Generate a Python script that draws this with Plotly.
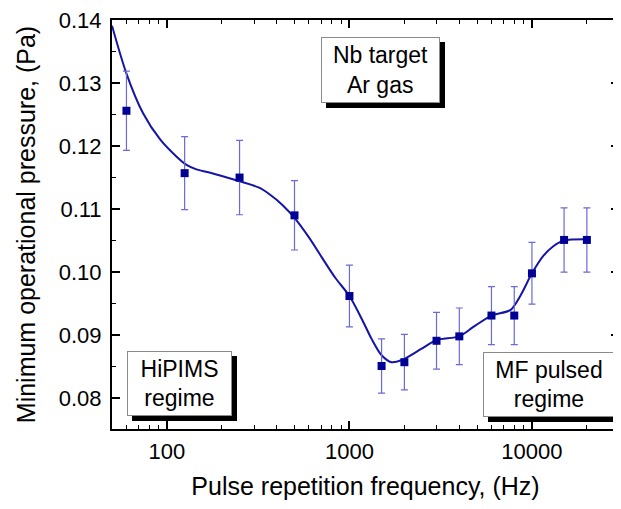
import plotly.graph_objects as go

# measured points
freq = [60, 125, 250, 500, 1000, 1500, 2000, 3000, 4000, 6000, 8000, 10000, 15000, 20000]
pressure = [0.1256, 0.1157, 0.1150, 0.1090, 0.0962, 0.0851, 0.0857, 0.0891, 0.0898, 0.0931, 0.0931, 0.0998, 0.1051, 0.1051]
err = [0.0063, 0.0058, 0.0059, 0.0055, 0.0049, 0.0043, 0.0044, 0.0045, 0.0045, 0.0046, 0.0046, 0.0049, 0.0051, 0.0051]

# smooth guide curve
curve_freq = [50, 60, 74, 92, 113, 128, 145, 171, 250, 320, 363, 428, 500, 600, 707, 836, 1000,
              1167, 1322, 1500, 1700, 1924, 2473, 3000, 4000, 4775, 6000, 7640, 8660, 10000,
              11570, 13100, 15000, 20000]
curve_p = [0.1391, 0.1315, 0.1252, 0.1210, 0.1183, 0.1170, 0.1163, 0.1158, 0.1144, 0.1134, 0.1124,
           0.1107, 0.1086, 0.1055, 0.1023, 0.0991, 0.0962, 0.0926, 0.0894, 0.0868, 0.0857,
           0.0860, 0.0878, 0.0892, 0.0898, 0.0913, 0.0931, 0.0940, 0.0963, 0.0998, 0.1026,
           0.1041, 0.1050, 0.1052]

x_ticks = [100, 1000, 10000]
x_minor = [60, 70, 80, 90, 200, 300, 400, 500, 600, 700, 800, 900,
           2000, 3000, 4000, 5000, 6000, 7000, 8000, 9000, 20000, 30000]
y_ticks = [0.08, 0.09, 0.10, 0.11, 0.12, 0.13, 0.14]

box_texts = ["Nb target<br>Ar gas", "HiPIMS<br>regime", "MF pulsed<br>regime"]

FONT = "Liberation Sans, Arial, sans-serif"

fig = go.Figure()
fig.add_trace(go.Scatter(x=curve_freq, y=curve_p, mode="lines",
                         line=dict(color="#1414a6", width=2, shape="spline", smoothing=0.8),
                         hoverinfo="skip", showlegend=False))
fig.add_trace(go.Scatter(x=freq, y=pressure, mode="markers",
                         marker=dict(symbol="square", size=8, color="#000096"),
                         error_y=dict(type="data", array=err, visible=True,
                                      color="#6a6ad8", thickness=1.2, width=3.5),
                         showlegend=False))

fig.update_xaxes(type="log", range=[1.69897, 4.477], tickvals=x_ticks,
                 ticktext=[str(v) for v in x_ticks],
                 ticks="inside", ticklen=8, tickwidth=1.5, tickcolor="black",
                 minor=dict(ticks="inside", ticklen=4, tickwidth=1.2, tickcolor="black",
                            tickvals=x_minor),
                 showline=True, linecolor="black", linewidth=2, mirror="allticks",
                 showgrid=False, zeroline=False, ticklabelstandoff=2,
                 ticklabeloverflow="allow",
                 tickfont=dict(family=FONT, size=22, color="black"),
                 title=dict(text="Pulse repetition frequency, (Hz)", standoff=14,
                            font=dict(family=FONT, size=25, color="black")))
fig.update_yaxes(range=[0.0751, 0.1400], tickvals=y_ticks, tickformat=".2f",
                 ticks="inside", ticklen=8, tickwidth=1.5, tickcolor="black",
                 minor=dict(ticks="inside", ticklen=4, tickwidth=1.2, tickcolor="black", dtick=0.005),
                 showline=True, linecolor="black", linewidth=2, mirror="allticks",
                 showgrid=False, zeroline=False, ticklabelstandoff=4,
                 ticklabeloverflow="allow",
                 tickfont=dict(family=FONT, size=22, color="black"),
                 title=dict(text="Minimum operational pressure, (Pa)", standoff=16,
                            font=dict(family=FONT, size=25, color="black")))


def add_box(text, xp, yp, w, h):
    common = dict(xref="paper", yref="paper", x=xp, y=yp, xanchor="center", yanchor="middle",
                  showarrow=False, width=w, height=h, borderpad=1,
                  font=dict(family=FONT, size=23, color="black"))
    # drop shadow (blank box of the same size)
    fig.add_annotation(**common, text=" ", bgcolor="black", bordercolor="black",
                       borderwidth=1, xshift=5, yshift=-5)
    fig.add_annotation(**common, text=text, bgcolor="white", bordercolor="#8a8a8a",
                       borderwidth=1)


# box centres as fractions of the plot area (page: l=112, w=509, t=16, h=412.7)
PW, PH = 509.0, 412.7
add_box(box_texts[0], (382 - 112) / PW, 1 - (66.3 - 16) / PH, 115, 62)
add_box(box_texts[1], (180 - 112) / PW, 1 - (382.5 - 16) / PH, 101, 61)
add_box(box_texts[2], (550.5 - 112) / PW, 1 - (383.3 - 16) / PH, 128, 61)

fig.update_layout(width=613, height=493, margin=dict(l=104, r=0, t=8, b=72),
                  paper_bgcolor="white", plot_bgcolor="white",
                  font=dict(family=FONT, color="black"))
fig.write_html("out.html")
